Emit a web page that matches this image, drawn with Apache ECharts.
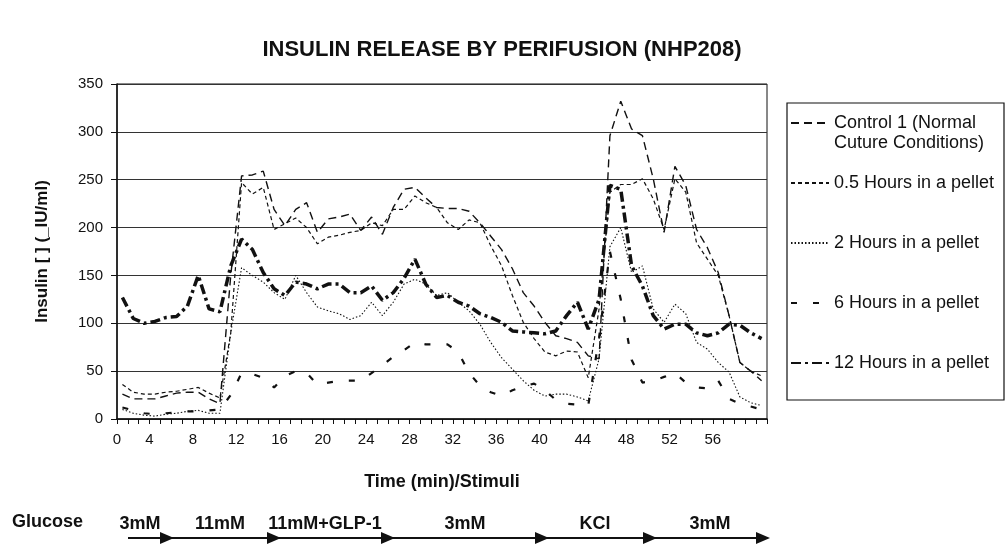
<!DOCTYPE html>
<html>
<head>
<meta charset="utf-8">
<script src="https://cdn.jsdelivr.net/npm/echarts@6/dist/echarts.min.js"></script>
<style>
  html, body { margin: 0; padding: 0; background: #fff; }
  #chart { width: 1006px; height: 558px; }
</style>
</head>
<body>
<div id="chart"></div>
<script>
// sample times (min), one point per minute slot
const times = [1.5, 2.5, 3.5, 4.5, 5.5, 6.5, 7.5, 8.5, 9.5, 10.5,
  11.5, 12.5, 13.5, 14.5, 15.5, 16.5, 17.5, 18.5, 19.5, 20.5,
  21.5, 22.5, 23.5, 24.5, 25.5, 26.5, 27.5, 28.5, 29.5, 30.5,
  31.5, 32.5, 33.5, 34.5, 35.5, 36.5, 37.5, 38.5, 39.5, 40.5,
  41.5, 42.5, 43.5, 44.5, 45.5, 46.5, 47.5, 48.5, 49.5, 50.5,
  51.5, 52.5, 53.5, 54.5, 55.5, 56.5, 57.5, 58.5, 59.5, 60.5];

const control1 = [26, 21, 21, 21, 24, 27, 28, 28, 21, 16,
  150, 254, 255, 259, 219, 202, 219, 226, 195, 209,
  211, 214, 197, 211, 193, 221, 240, 242, 231, 221,
  220, 220, 217, 205, 191, 177, 157, 132, 118, 101,
  87, 84, 80, 66, 63, 296, 332, 303, 296, 251,
  195, 264, 244, 198, 179, 153, 108, 59, 50, 40];

const halfHour = [36, 28, 26, 26, 28, 29, 31, 33, 27, 22,
  90, 247, 235, 242, 198, 204, 210, 200, 183, 190,
  192, 195, 197, 205, 202, 219, 219, 233, 226, 221,
  205, 198, 208, 205, 181, 160, 129, 101, 84, 70,
  66, 71, 70, 43, 115, 237, 245, 245, 251, 230,
  198, 251, 237, 184, 167, 150, 108, 59, 50, 45];

const twoHours = [10, 6, 4, 3, 5, 6, 8, 9, 6, 6,
  90, 158, 150, 143, 132, 125, 150, 132, 117, 113,
  110, 104, 108, 122, 108, 122, 141, 146, 141, 129,
  132, 122, 113, 99, 80, 64, 52, 40, 30, 24,
  26, 26, 23, 19, 63, 180, 200, 153, 160, 115,
  101, 120, 110, 80, 73, 59, 49, 23, 17, 14];

const sixHours = [12, 9, 6, 5, 6, 7, 8, 8, 9, 10,
  25, 48, 47, 43, 33, 45, 50, 48, 36, 38,
  40, 40, 40, 48, 56, 65, 72, 80, 78, 78,
  78, 70, 48, 35, 28, 24, 30, 34, 37, 30,
  20, 16, 15, 14, 85, 175, 125, 62, 38, 40,
  44, 48, 38, 33, 32, 40, 21, 16, 13, 10];

const twelveHours = [127, 105, 100, 102, 106, 107, 118, 150, 115, 112,
  160, 188, 177, 153, 136, 129, 143, 141, 136, 141,
  141, 132, 132, 139, 124, 132, 147, 167, 141, 127,
  129, 122, 118, 110, 106, 101, 92, 91, 90, 89,
  92, 108, 122, 94, 125, 244, 240, 160, 139, 108,
  94, 99, 99, 90, 87, 90, 99, 98, 90, 84];

const seriesNames = ['Control 1 (Normal Cuture Conditions)', '0.5 Hours in a pellet',
  '2 Hours in a pellet', '6 Hours in a pellet', '12 Hours in a pellet'];
const stimuli = ['3mM', '11mM', '11mM+GLP-1', '3mM', 'KCl', '3mM'];

const FONT = '"Liberation Sans", Arial, sans-serif';
const INK = '#111';

const chart = echarts.init(document.getElementById('chart'));

const pairs = vals => times.map((t, i) => [t, vals[i]]);

function lineSeries(name, vals, width, dash) {
  return {
    name: name,
    type: 'line',
    data: pairs(vals),
    symbol: 'none',
    smooth: false,
    animation: false,
    itemStyle: { color: INK },
    lineStyle: { color: INK, width: width, type: dash }
  };
}

// stimulus labels + arrows under the axis
const arrowTips = [174, 281, 395, 549, 657, 770];
const labelCenters = [140, 220, 325, 465, 595, 710];
const graphics = [
  {
    type: 'text', left: 12, top: 513,
    style: { text: 'Glucose', font: 'bold 18px ' + FONT, fill: INK }
  },
  {
    type: 'line', shape: { x1: 128, y1: 538, x2: 764, y2: 538 },
    style: { stroke: INK, lineWidth: 2 }
  },
  {
    type: 'rect', shape: { x: 787, y: 103, width: 217, height: 297 },
    style: { fill: 'none', stroke: INK, lineWidth: 1.2 }
  }
];
arrowTips.forEach(x => {
  graphics.push({
    type: 'polygon',
    shape: { points: [[x - 14, 532], [x, 538], [x - 14, 544]] },
    style: { fill: INK }
  });
});
stimuli.forEach((s, i) => {
  graphics.push({
    type: 'text', x: labelCenters[i], y: 524,
    style: { text: s, font: 'bold 18px ' + FONT, fill: INK, align: 'center', verticalAlign: 'middle' }
  });
});

const option = {
  backgroundColor: '#fff',
  title: {
    text: 'INSULIN RELEASE BY PERIFUSION (NHP208)',
    left: 497,
    top: 34,
    textAlign: 'center',
    textStyle: { fontFamily: FONT, fontSize: 22, fontWeight: 'bold', color: INK }
  },
  legend: {
    orient: 'vertical',
    left: 790,
    top: 93,
    padding: 0,
    itemGap: 0,
    itemWidth: 38,
    itemHeight: 12,
    data: seriesNames,
    itemStyle: { opacity: 0 },
    formatter: name => name === seriesNames[0]
      ? '\nControl 1 (Normal\nCuture Conditions)'
      : '\n' + name + '\n',
    textStyle: { fontFamily: FONT, fontSize: 18, lineHeight: 20, color: INK }
  },
  grid: {
    left: 117,
    right: 239,
    top: 84,
    bottom: 139,
    show: true,
    borderColor: INK,
    borderWidth: 1
  },
  xAxis: {
    type: 'value',
    min: 1,
    max: 61,
    interval: 1,
    name: 'Time (min)/Stimuli',
    nameLocation: 'middle',
    nameGap: 54,
    nameTextStyle: { fontFamily: FONT, fontSize: 18, fontWeight: 'bold', color: INK },
    axisLine: { lineStyle: { color: INK, width: 1.5 } },
    axisTick: { length: 5, lineStyle: { color: INK } },
    splitLine: { show: false },
    axisLabel: {
      fontFamily: FONT, fontSize: 15, color: INK, margin: 13,
      formatter: v => v === 1 ? '0' : (v % 4 === 0 && v <= 56 ? String(v) : '')
    }
  },
  yAxis: {
    type: 'value',
    min: 0,
    max: 350,
    interval: 50,
    name: 'Insulin [ ] (_IU/ml)',
    nameLocation: 'middle',
    nameGap: 66,
    nameTextStyle: { fontFamily: FONT, fontSize: 17, fontWeight: 'bold', color: INK },
    axisLine: { show: true, lineStyle: { color: INK, width: 1.5 } },
    axisTick: { show: true, length: 6, lineStyle: { color: INK } },
    splitLine: { lineStyle: { color: '#333', width: 1 } },
    axisLabel: { fontFamily: FONT, fontSize: 15, color: INK, margin: 14 }
  },
  series: [
    lineSeries(seriesNames[0], control1, 1.4, [8, 5]),
    lineSeries(seriesNames[1], halfHour, 1.2, [4, 3]),
    lineSeries(seriesNames[2], twoHours, 1.1, [1.5, 2]),
    lineSeries(seriesNames[3], sixHours, 2.2, [6, 16]),
    lineSeries(seriesNames[4], twelveHours, 3.5, [10, 4, 3, 4])
  ],
  graphic: graphics
};

chart.setOption(option);
</script>
</body>
</html>
